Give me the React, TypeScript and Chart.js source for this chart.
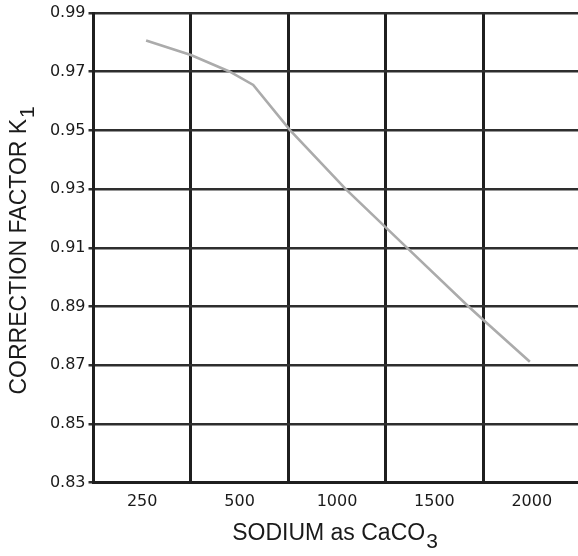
import React, { useEffect, useRef } from "react";
import { Chart, registerables } from "chart.js";

Chart.register(...registerables);

// Category tick labels on the x axis (sodium as CaCO3)
const sodiumTicks = [250, 500, 1000, 1500, 2000];
const sodiumLabels = ["250", "500", "1000", "1500", "2000"];

// Y axis tick values (correction factor K1)
const k1Ticks = [0.83, 0.85, 0.87, 0.89, 0.91, 0.93, 0.95, 0.97, 0.99];

// Curve
const sodiumValues = [260, 375, 475, 570, 760, 1045, 1360, 1675, 1750, 1990];
const k1Values = [0.9806, 0.9757, 0.97, 0.9655, 0.95, 0.93, 0.91, 0.89, 0.8855, 0.8712];

const xTitleMain = "SODIUM as CaCO";
const xTitleSub = "3";
const yTitleMain = "CORRECTION FACTOR K";
const yTitleSub = "1";

// Axis is drawn with equal spacing per labelled category; map sodium to that position
function sodiumToPosition(s: number): number {
  for (let i = 0; i < sodiumTicks.length - 1; i++) {
    if (s <= sodiumTicks[i + 1] || i === sodiumTicks.length - 2) {
      return i + (s - sodiumTicks[i]) / (sodiumTicks[i + 1] - sodiumTicks[i]);
    }
  }
  return 0;
}

const TITLE_FONT = '23px "Liberation Sans", Arial, sans-serif';
const SUB_FONT = '21px "Liberation Sans", Arial, sans-serif';
const TEXT_COLOR = "#1a1a1a";

function drawSubText(ctx: CanvasRenderingContext2D, main: string, sub: string, cx: number, baseline: number) {
  ctx.font = TITLE_FONT;
  const w1 = ctx.measureText(main).width;
  ctx.font = SUB_FONT;
  const w2 = ctx.measureText(sub).width;
  const start = cx - (w1 + w2 + 1) / 2;
  ctx.textAlign = "left";
  ctx.textBaseline = "alphabetic";
  ctx.font = TITLE_FONT;
  ctx.fillText(main, start, baseline);
  ctx.font = SUB_FONT;
  ctx.fillText(sub, start + w1 + 1, baseline + 8);
}

const titlesPlugin = {
  id: "subscriptTitles",
  afterDraw(chart: any) {
    const { ctx, chartArea } = chart;
    ctx.save();
    ctx.fillStyle = TEXT_COLOR;
    // x title
    drawSubText(ctx, xTitleMain, xTitleSub, (chartArea.left + chartArea.right) / 2 - 2, chartArea.bottom + 57.5);
    // y title
    ctx.translate(chartArea.left - 67.5, (chartArea.top + chartArea.bottom) / 2 + 2.5);
    ctx.rotate(-Math.PI / 2);
    drawSubText(ctx, yTitleMain, yTitleSub, 0, 0);
    ctx.restore();
  },
};

export default function App() {
  const canvasRef = useRef<HTMLCanvasElement | null>(null);

  useEffect(() => {
    if (!canvasRef.current) return;
    const points = sodiumValues.map((s, i) => ({ x: sodiumToPosition(s), y: k1Values[i] }));
    const tickFont = { family: '"DejaVu Sans", sans-serif', size: 16 };
    const chart = new Chart(canvasRef.current, {
      type: "line",
      data: {
        datasets: [
          {
            data: points,
            borderColor: "#ababab",
            borderWidth: 2.6,
            pointRadius: 0,
            tension: 0,
            fill: false,
          },
        ],
      },
      options: {
        animation: false,
        responsive: false,
        events: [],
        layout: { padding: { top: 13, right: 1.5, left: 0, bottom: 0 } },
        plugins: { legend: { display: false }, tooltip: { enabled: false }, title: { display: false } },
        scales: {
          x: {
            type: "linear",
            min: -0.5,
            max: sodiumTicks.length - 0.5,
            afterBuildTicks: (scale: any) => {
              scale.ticks = sodiumTicks.map((_, i) => ({ value: i }));
            },
            afterFit: (scale: any) => {
              scale.height = 73.3;
            },
            ticks: {
              callback: (_v: any, i: number) => sodiumLabels[i],
              font: tickFont,
              color: TEXT_COLOR,
              padding: 9.5,
              maxRotation: 0,
              autoSkip: false,
            },
            grid: { offset: true, color: "#1f1f1f", lineWidth: 3, drawTicks: false },
            border: { color: "#1f1f1f", width: 3 },
          },
          y: {
            type: "linear",
            min: k1Ticks[0],
            max: k1Ticks[k1Ticks.length - 1],
            afterBuildTicks: (scale: any) => {
              scale.ticks = k1Ticks.map((v) => ({ value: v }));
            },
            afterFit: (scale: any) => {
              scale.width = 93.5;
            },
            ticks: {
              callback: (v: any) => Number(v).toFixed(2),
              font: tickFont,
              color: TEXT_COLOR,
              padding: 3,
              autoSkip: false,
            },
            grid: { color: "#2e2e2e", lineWidth: 2.5, drawTicks: true, tickLength: 5 },
            border: { color: "#1f1f1f", width: 3 },
          },
        },
      },
      plugins: [titlesPlugin],
    });
    return () => chart.destroy();
  }, []);

  return (
    <div style={{ position: "absolute", left: 0, top: 0, width: 578, height: 556, overflow: "hidden", background: "#fff" }}>
      <canvas ref={canvasRef} width={582} height={556} style={{ display: "block" }} />
    </div>
  );
}
